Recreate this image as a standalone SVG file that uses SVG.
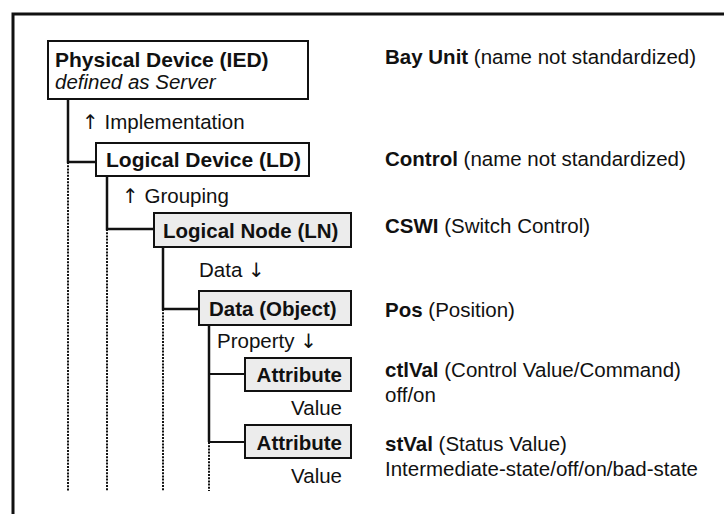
<svg xmlns="http://www.w3.org/2000/svg" width="724" height="514" viewBox="0 0 724 514">
<style>
text{font-family:"Liberation Sans",Arial,Helvetica,sans-serif;font-size:20.5px;fill:#111}
.b{font-weight:bold}
.bb{font-weight:bold;font-size:21px}
.i{font-style:italic}
.ar{font-family:"DejaVu Sans",sans-serif;font-size:20px}
.box{fill:#fff;stroke:#111;stroke-width:2}
.gbox{fill:#ececec;stroke:#111;stroke-width:2}
.ln{stroke:#111;stroke-width:2.5;fill:none}
.dot{stroke:#111;stroke-width:2;fill:none;stroke-dasharray:2 1.2}
</style>
<rect x="0" y="0" width="724" height="514" fill="#fff"/>
<path d="M13 514 V14 H724" fill="none" stroke="#111" stroke-width="3"/>
<g id="connectors">
<path class="ln" d="M68 99 V162 H96"/>
<path class="dot" d="M68 162 V491"/>
<path class="ln" d="M107 176 V229 H154"/>
<path class="dot" d="M107 229 V491"/>
<path class="ln" d="M163 247 V309 H199"/>
<path class="dot" d="M163 309 V491"/>
<path class="ln" d="M209 325 V442"/>
<path class="ln" d="M209 374 H245" style="stroke-width:2"/>
<path class="ln" d="M209 442 H245" style="stroke-width:2"/>
<path class="dot" d="M209 442 V491"/>
</g>
<g id="ied">
<rect class="box" x="48" y="41" width="260" height="58"/>
<text class="bb" x="55" y="67">Physical Device (IED)</text>
<text class="i" x="55" y="89">defined as Server</text>
</g>
<text x="82" y="129"><tspan class="ar">↑</tspan> Implementation</text>
<g id="ld">
<rect class="box" x="96" y="143" width="213" height="33"/>
<text class="bb" x="106" y="167">Logical Device (LD)</text>
</g>
<text x="122" y="203"><tspan class="ar">↑</tspan> Grouping</text>
<g id="ln">
<rect class="gbox" x="154" y="213" width="197" height="34"/>
<text class="b" x="163" y="238">Logical Node (LN)</text>
</g>
<text x="199" y="277">Data <tspan class="ar">↓</tspan></text>
<g id="do">
<rect class="gbox" x="199" y="291" width="152" height="34"/>
<text class="b" x="209" y="316">Data (Object)</text>
</g>
<text x="217" y="348">Property <tspan class="ar">↓</tspan></text>
<g id="attr1">
<rect class="gbox" x="245" y="358" width="106" height="33"/>
<text class="b" x="342" y="382" text-anchor="end">Attribute</text>
</g>
<text x="342" y="415" text-anchor="end">Value</text>
<g id="attr2">
<rect class="gbox" x="245" y="425" width="106" height="33"/>
<text class="b" x="342" y="450" text-anchor="end">Attribute</text>
</g>
<text x="342" y="483" text-anchor="end">Value</text>
<g id="labels">
<text x="385" y="64"><tspan class="b">Bay Unit</tspan> (name not standardized)</text>
<text x="385" y="166"><tspan class="b">Control</tspan> (name not standardized)</text>
<text x="385" y="233"><tspan class="b">CSWI</tspan> (Switch Control)</text>
<text x="385" y="317"><tspan class="b">Pos</tspan> (Position)</text>
<text x="385" y="377"><tspan class="b">ctlVal</tspan> (Control Value/Command)</text>
<text x="385" y="402">off/on</text>
<text x="385" y="451"><tspan class="b">stVal</tspan> (Status Value)</text>
<text x="385" y="476">Intermediate-state/off/on/bad-state</text>
</g>
</svg>
